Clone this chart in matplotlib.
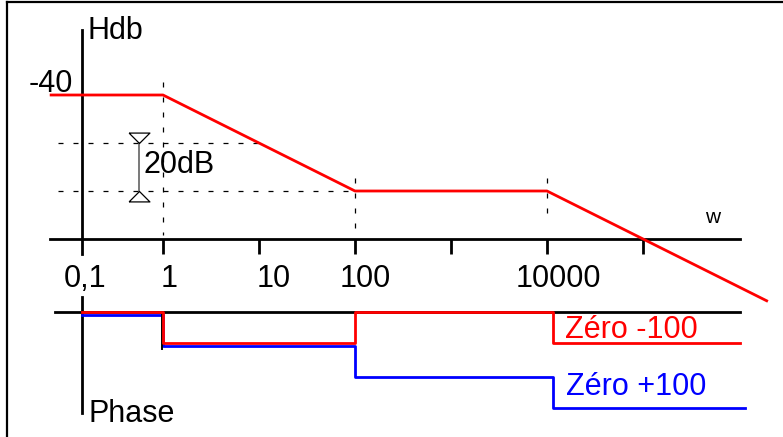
import matplotlib
matplotlib.use('Agg')
import matplotlib.pyplot as plt
import matplotlib.transforms as mtransforms
from matplotlib.lines import Line2D
import numpy as np

plt.rcParams['font.family'] = ['Liberation Sans', 'DejaVu Sans']

# Gain asymptotique (dB) en fonction de w
mag_w = [0.04, 1, 100, 1e4, 2e6]
mag_db = [-40, -40, -80, -80, -126]

# Phase asymptotique (degres), marches aux cassures
phase_w_rouge = [0.1, 1, 100, 1.15e4, 1.02e6]
phase_rouge = [0, -90, 0, -90, -90]        # Zéro -100
phase_w_bleu = [0.1, 1, 100, 1.15e4, 1.15e6]
phase_bleu = [0, -90, -180, -270, -270]    # Zéro +100

tick_w = [1, 10, 100, 1000, 1e4, 1e5]
label_w = [0.1, 1, 10, 100, 1e4]
tick_labels = ['0,1', '1', '10', '100', '10000']
label_dx = [3.5, 6.5, 15, 10, 11]  # decalage des etiquettes (px)

def pos(w):  # axe log, la decade 0,1 -> 1 est un peu raccourcie
    lw = np.log10(np.asarray(w, dtype=float))
    return np.where(lw < 0, 0.844 * lw, lw)

PX = 96.0  # pixels par decade
fig = plt.figure(figsize=(7.83, 4.37), dpi=100)

ax = fig.add_axes([0, 0, 1, 1])   # gain
ax.set_xlim(-163 / PX, (783 - 163) / PX)
ax.set_ylim(-100 - (437 - 239) / 2.4, -100 + 239 / 2.4)
ax.axis('off')

axp = fig.add_axes([0, 0, 1, 1])  # phase
axp.set_xlim(ax.get_xlim())
axp.set_ylim((312 - 437) * 90 / 31, 312 * 90 / 31)
axp.axis('off')
axp.patch.set_alpha(0)

# cadre (haut et gauche seulement)
fig.add_artist(Line2D([7 / 783, 1], [1 - 2 / 437, 1 - 2 / 437], color='black', lw=1.6))
fig.add_artist(Line2D([7 / 783, 7 / 783], [0, 1 - 2 / 437], color='black', lw=1.6))

# ---- gain ----
ax.plot([-1.177, 6.01], [-100, -100], color='black', lw=2)
ax.plot([pos(0.1), pos(0.1)], [-106.25, -12.9], color='black', lw=2)
ax.vlines(pos(tick_w), -106.25, -100, color='black', lw=2)

dash = dict(color='black', lw=0.9, dashes=(4, 8))
ax.plot([-1.094, pos(10)], [-60, -60], **dash)
ax.plot([-1.094, pos(100)], [-80, -80], **dash)
ax.plot([pos(1), pos(1)], [-34.6, -98.3], **dash)
ax.plot([pos(100), pos(100)], [-74.6, -98], **dash)
ax.plot([pos(1e4), pos(1e4)], [-74.6, -92], **dash)

ax.plot(pos(mag_w), mag_db, color='#ff0000', lw=2, solid_capstyle='butt')

# repere 20dB
x20 = -0.25
ax.plot([x20, x20], [-60, -80], color='#555555', lw=1.1)
ax.plot([x20], [-60], marker=[(-1, 1), (1, 1), (0, 0), (-1, 1)], ms=15,
        mfc='none', mec='black', mew=0.9)
ax.plot([x20], [-80], marker=[(-1, -1), (1, -1), (0, 0), (-1, -1)], ms=15,
        mfc='none', mec='black', mew=0.9)
ax.text(-0.198, -72.5, '20dB', fontsize=22, va='baseline', ha='left')

ax.text(-0.79, -16.7, 'Hdb', fontsize=22, va='baseline', ha='left')
ax.text(-0.933, -38.75, '-40', fontsize=22, va='baseline', ha='right')
ax.text(5.65, -93.3, 'w', fontsize=15, va='baseline', ha='left')

for w, lab, dx in zip(label_w, tick_labels, label_dx):
    ax.text(pos(w) + dx / PX, -120, lab, fontsize=22, va='baseline', ha='center')

# ---- phase ----
axp.plot([-1.125, 6.01], [0, 0], color='black', lw=2)
axp.plot([pos(0.1), pos(0.1)], [43.5, -293], color='black', lw=2)

decal = mtransforms.offset_copy(axp.transData, fig=fig, x=0, y=-3, units='dots')
axp.step(pos(phase_w_bleu), phase_bleu, where='post', color='#0000ff', lw=2,
         transform=decal)
axp.plot([pos(1) - 1.5 / PX, pos(1) - 1.5 / PX], [0, -107], color='black', lw=1.4)
axp.step(pos(phase_w_rouge), phase_rouge, where='post', color='#ff0000', lw=2)

axp.text(4.19, -75.5, 'Zéro -100', fontsize=22, color='#ff0000', va='baseline', ha='left')
axp.text(4.2, -241, 'Zéro +100', fontsize=22, color='#0000ff', va='baseline', ha='left')
axp.text(-0.78, -319, 'Phase', fontsize=22, va='baseline', ha='left')

fig.savefig('out.png', dpi=100)
